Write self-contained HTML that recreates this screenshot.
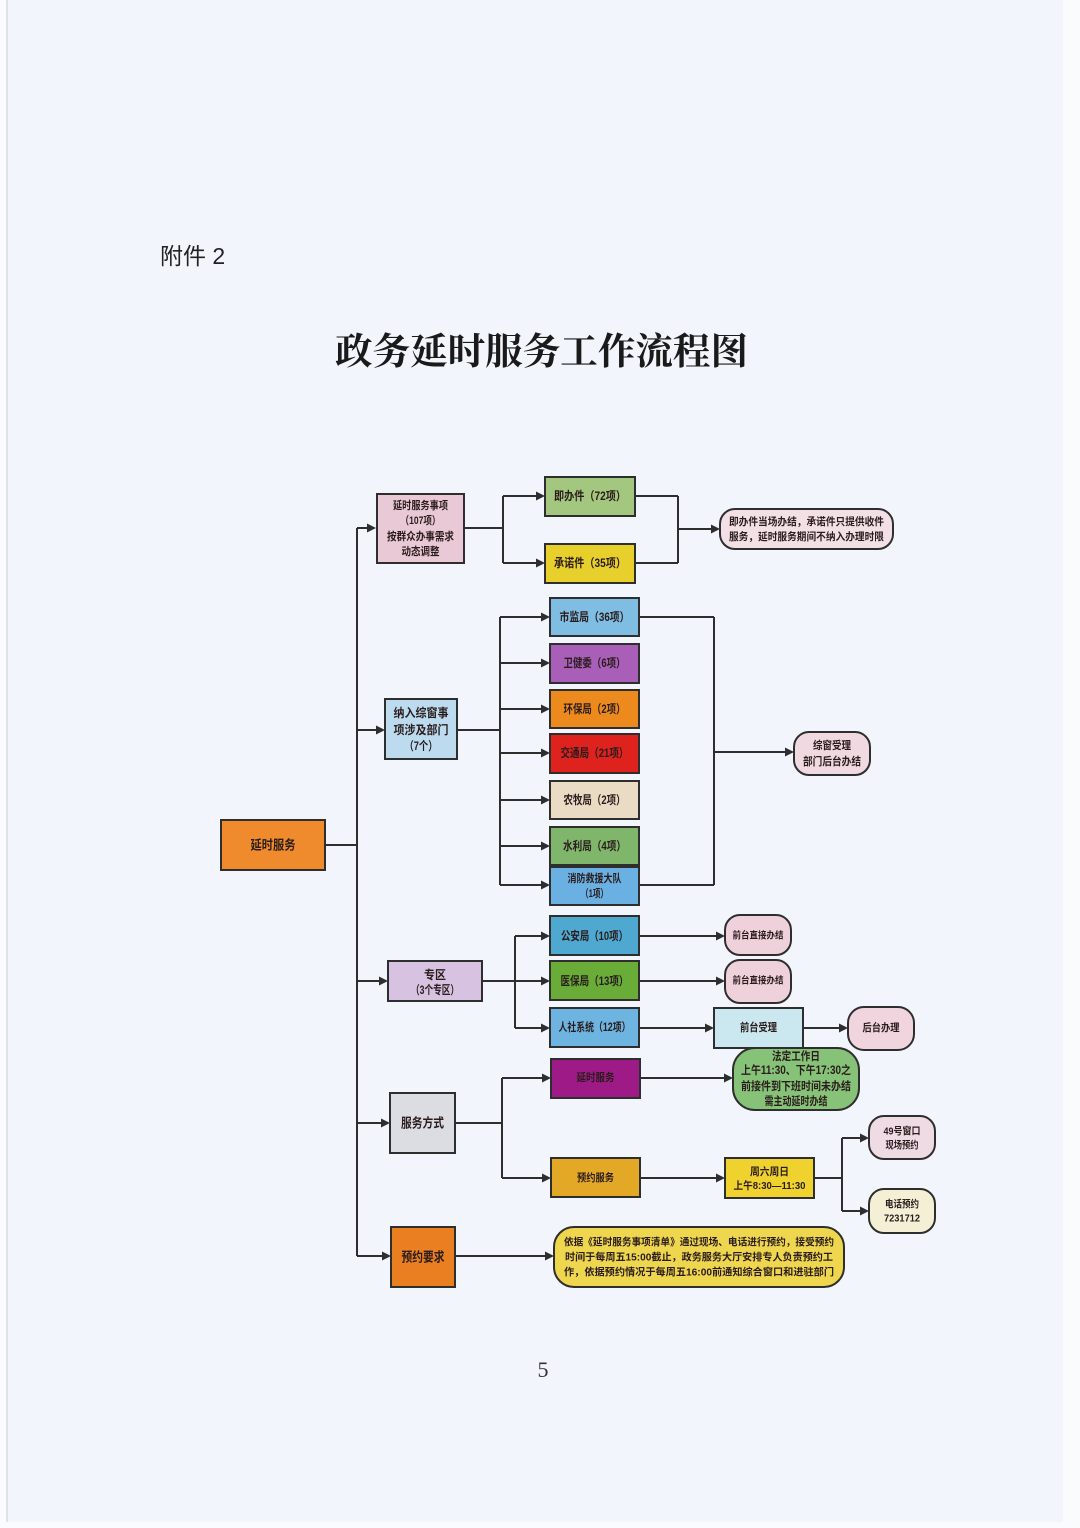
<!DOCTYPE html>
<html lang="zh">
<head>
<meta charset="utf-8">
<style>
  html,body{margin:0;padding:0;background:#fafbfd;}
  body{width:1080px;height:1528px;overflow:hidden;position:relative;}
  svg{display:block;}
  .t{font-family:"Liberation Sans","Noto Sans CJK SC",sans-serif;font-weight:bold;fill:#2a1c1c;text-anchor:middle;dominant-baseline:central;}
  .ln{stroke:#2e2e2e;stroke-width:2;fill:none;}
  .bx{stroke:#2e2e2e;stroke-width:2;}
  .ah{fill:#2e2e2e;}
</style>
</head>
<body>
<svg width="1080" height="1528" viewBox="0 0 1080 1528" xmlns="http://www.w3.org/2000/svg">
  <rect x="0" y="0" width="1080" height="1528" fill="#fafbfd"/>
  <rect x="7" y="0" width="1056" height="1522" fill="#f2f5fb"/>
  <line x1="7" y1="0" x2="7" y2="1522" stroke="#c9ccd2" stroke-width="1"/>

  <text x="160" y="264" font-family="'Liberation Sans','Noto Sans CJK SC',sans-serif" font-size="23" fill="#222">附件 2</text>
  <text x="335" y="364" font-family="'Liberation Serif','Noto Serif CJK SC',serif" font-weight="bold" font-size="37" fill="#1a1a1a" textLength="413" lengthAdjust="spacingAndGlyphs">政务延时服务工作流程图</text>

  <!-- connectors -->
  <path class="ln" d="M325 845 H357 M357 528 V1256"/>
  <path class="ln" d="M357 528 H368 M357 730 H377 M357 981 H380 M357 1123 H382 M357 1256 H383"/>
  <path class="ah" d="M376 528 l-9 -4.5 v9z M385 730 l-9 -4.5 v9z M388 981 l-9 -4.5 v9z M390 1123 l-9 -4.5 v9z M391 1256 l-9 -4.5 v9z"/>

  <path class="ln" d="M464 528 H503 M503 496 V563 M503 496 H537 M503 563 H537"/>
  <path class="ah" d="M545 496 l-9 -4.5 v9z M545 563 l-9 -4.5 v9z"/>
  <path class="ln" d="M635 496 H678 M635 563 H678 M678 496 V563 M678 529 H712"/>
  <path class="ah" d="M720 529 l-9 -4.5 v9z"/>

  <path class="ln" d="M457 730 H500 M500 617 V885"/>
  <path class="ln" d="M500 617 H542 M500 663 H542 M500 709 H542 M500 753 H542 M500 800 H542 M500 846 H542 M500 885 H542"/>
  <path class="ah" d="M550 617 l-9 -4.5 v9z M550 663 l-9 -4.5 v9z M550 709 l-9 -4.5 v9z M550 753 l-9 -4.5 v9z M550 800 l-9 -4.5 v9z M550 846 l-9 -4.5 v9z M550 885 l-9 -4.5 v9z"/>
  <path class="ln" d="M639 617 H714 M639 885 H714 M714 617 V885 M714 752 H786"/>
  <path class="ah" d="M794 752 l-9 -4.5 v9z"/>

  <path class="ln" d="M482 981 H542 M515 936 V1028 M515 936 H542 M515 1028 H542"/>
  <path class="ah" d="M550 936 l-9 -4.5 v9z M550 981 l-9 -4.5 v9z M550 1028 l-9 -4.5 v9z"/>
  <path class="ln" d="M639 936 H717 M639 981 H717 M639 1028 H706 M803 1028 H840"/>
  <path class="ah" d="M725 936 l-9 -4.5 v9z M725 981 l-9 -4.5 v9z M714 1028 l-9 -4.5 v9z M848 1028 l-9 -4.5 v9z"/>

  <path class="ln" d="M455 1123 H502 M502 1078 V1178 M502 1078 H543 M502 1178 H543"/>
  <path class="ah" d="M551 1078 l-9 -4.5 v9z M551 1178 l-9 -4.5 v9z"/>
  <path class="ln" d="M640 1078 H725 M640 1178 H717 M814 1178 H842 M842 1138 V1211 M842 1138 H861 M842 1211 H861"/>
  <path class="ah" d="M733 1078 l-9 -4.5 v9z M725 1178 l-9 -4.5 v9z M869 1138 l-9 -4.5 v9z M869 1211 l-9 -4.5 v9z"/>

  <path class="ln" d="M455 1256 H546"/>
  <path class="ah" d="M554 1256 l-9 -4.5 v9z"/>

  <!-- nodes -->
  <rect class="bx" x="221" y="820" width="104" height="50" fill="#ef8b2c"/>
  <text class="t" x="273" y="845" font-size="13" fill="#4a1c0a" textLength="45" lengthAdjust="spacingAndGlyphs">延时服务</text>

  <rect class="bx" x="377" y="494" width="87" height="69" fill="#e9c9d5"/>
  <text class="t" x="420.5" y="506" font-size="11" textLength="55" lengthAdjust="spacingAndGlyphs">延时服务事项</text>
  <text class="t" x="420.5" y="521" font-size="11" textLength="40" lengthAdjust="spacingAndGlyphs">（107项）</text>
  <text class="t" x="420.5" y="537" font-size="11" textLength="67" lengthAdjust="spacingAndGlyphs">按群众办事需求</text>
  <text class="t" x="420.5" y="552" font-size="11" textLength="38" lengthAdjust="spacingAndGlyphs">动态调整</text>

  <rect class="bx" x="545" y="477" width="90" height="39" fill="#a3c77e"/>
  <text class="t" x="590" y="496" font-size="12" textLength="72" lengthAdjust="spacingAndGlyphs">即办件（72项）</text>
  <rect class="bx" x="545" y="544" width="90" height="39" fill="#e7cf2c"/>
  <text class="t" x="590" y="563" font-size="12" textLength="72" lengthAdjust="spacingAndGlyphs">承诺件（35项）</text>

  <rect class="bx" x="720" y="509" width="173" height="40" rx="15" fill="#f3e0e7"/>
  <text class="t" x="806.5" y="522" font-size="10.5" textLength="155" lengthAdjust="spacingAndGlyphs">即办件当场办结，承诺件只提供收件</text>
  <text class="t" x="806.5" y="537" font-size="10.5" textLength="155" lengthAdjust="spacingAndGlyphs">服务，延时服务期间不纳入办理时限</text>

  <rect class="bx" x="385" y="699" width="72" height="60" fill="#bcdbee"/>
  <text class="t" x="421" y="713" font-size="12" textLength="55" lengthAdjust="spacingAndGlyphs">纳入综窗事</text>
  <text class="t" x="421" y="730" font-size="12" textLength="55" lengthAdjust="spacingAndGlyphs">项涉及部门</text>
  <text class="t" x="421" y="746" font-size="12" textLength="33" lengthAdjust="spacingAndGlyphs">（7个）</text>

  <rect class="bx" x="550" y="598" width="89" height="38" fill="#80bde3"/>
  <text class="t" x="594.5" y="617" font-size="12" textLength="70" lengthAdjust="spacingAndGlyphs">市监局（36项）</text>
  <rect class="bx" x="550" y="644" width="89" height="39" fill="#a95fb8"/>
  <text class="t" x="594.5" y="663" font-size="12" fill="#3a1242" textLength="62" lengthAdjust="spacingAndGlyphs">卫健委（6项）</text>
  <rect class="bx" x="550" y="690" width="89" height="38" fill="#ec8a1e"/>
  <text class="t" x="594.5" y="709" font-size="12" fill="#3a1a08" textLength="62" lengthAdjust="spacingAndGlyphs">环保局（2项）</text>
  <rect class="bx" x="550" y="734" width="89" height="39" fill="#de231e"/>
  <text class="t" x="594.5" y="753" font-size="12" fill="#7a1010" textLength="68" lengthAdjust="spacingAndGlyphs">交通局（21项）</text>
  <rect class="bx" x="550" y="781" width="89" height="38" fill="#eadbc4"/>
  <text class="t" x="594.5" y="800" font-size="12" textLength="62" lengthAdjust="spacingAndGlyphs">农牧局（2项）</text>
  <rect class="bx" x="550" y="827" width="89" height="38" fill="#80b66b"/>
  <text class="t" x="594.5" y="846" font-size="12" textLength="63" lengthAdjust="spacingAndGlyphs">水利局（4项）</text>
  <rect class="bx" x="550" y="867" width="89" height="38" fill="#6ab0e2"/>
  <text class="t" x="594.5" y="879" font-size="11" textLength="54" lengthAdjust="spacingAndGlyphs">消防救援大队</text>
  <text class="t" x="594.5" y="894" font-size="11" textLength="27" lengthAdjust="spacingAndGlyphs">（1项）</text>

  <rect class="bx" x="794" y="732" width="76" height="43" rx="15" fill="#f0d9e1"/>
  <text class="t" x="832" y="746" font-size="11" textLength="38" lengthAdjust="spacingAndGlyphs">综窗受理</text>
  <text class="t" x="832" y="762" font-size="11" textLength="58" lengthAdjust="spacingAndGlyphs">部门后台办结</text>

  <rect class="bx" x="388" y="961" width="94" height="40" fill="#d7c2e2"/>
  <text class="t" x="435" y="975" font-size="12" textLength="22" lengthAdjust="spacingAndGlyphs">专区</text>
  <text class="t" x="435" y="990" font-size="12" textLength="48" lengthAdjust="spacingAndGlyphs">（3个专区）</text>

  <rect class="bx" x="550" y="916" width="89" height="39" fill="#4fa8cf"/>
  <text class="t" x="594.5" y="936" font-size="12" textLength="67" lengthAdjust="spacingAndGlyphs">公安局（10项）</text>
  <rect class="bx" x="550" y="961" width="89" height="39" fill="#6aac38"/>
  <text class="t" x="594.5" y="981" font-size="12" textLength="68" lengthAdjust="spacingAndGlyphs">医保局（13项）</text>
  <rect class="bx" x="550" y="1008" width="89" height="39" fill="#6eb4e1"/>
  <text class="t" x="594.5" y="1028" font-size="11.5" textLength="72" lengthAdjust="spacingAndGlyphs">人社系统（12项）</text>

  <rect class="bx" x="725" y="915" width="66" height="40" rx="15" fill="#efd1db"/>
  <text class="t" x="758" y="936" font-size="9.5" textLength="51" lengthAdjust="spacingAndGlyphs">前台直接办结</text>
  <rect class="bx" x="725" y="960" width="66" height="43" rx="15" fill="#efd1db"/>
  <text class="t" x="758" y="981" font-size="9.5" textLength="51" lengthAdjust="spacingAndGlyphs">前台直接办结</text>

  <rect class="bx" x="714" y="1008" width="89" height="40" fill="#cbe7ef"/>
  <text class="t" x="758.5" y="1028" font-size="11" textLength="37" lengthAdjust="spacingAndGlyphs">前台受理</text>
  <rect class="bx" x="848" y="1007" width="66" height="43" rx="16" fill="#f0d5de"/>
  <text class="t" x="881" y="1028" font-size="10.5" textLength="37" lengthAdjust="spacingAndGlyphs">后台办理</text>

  <rect class="bx" x="390" y="1093" width="65" height="60" fill="#dcdce3"/>
  <text class="t" x="422.5" y="1123" font-size="13" textLength="43" lengthAdjust="spacingAndGlyphs">服务方式</text>

  <rect class="bx" x="551" y="1059" width="89" height="39" fill="#9e1a86"/>
  <text class="t" x="595.5" y="1078" font-size="11" fill="#5a0e4a" textLength="38" lengthAdjust="spacingAndGlyphs">延时服务</text>

  <rect class="bx" x="733" y="1048" width="126" height="62" rx="22" fill="#86c277"/>
  <text class="t" x="796" y="1057" font-size="11.5" textLength="48" lengthAdjust="spacingAndGlyphs">法定工作日</text>
  <text class="t" x="796" y="1071" font-size="11.5" textLength="110" lengthAdjust="spacingAndGlyphs">上午11:30、下午17:30之</text>
  <text class="t" x="796" y="1087" font-size="11.5" textLength="110" lengthAdjust="spacingAndGlyphs">前接件到下班时间未办结</text>
  <text class="t" x="796" y="1102" font-size="11.5" textLength="63" lengthAdjust="spacingAndGlyphs">需主动延时办结</text>

  <rect class="bx" x="551" y="1158" width="89" height="39" fill="#e3a826"/>
  <text class="t" x="595.5" y="1178" font-size="10.5" fill="#4a2608" textLength="37" lengthAdjust="spacingAndGlyphs">预约服务</text>

  <rect class="bx" x="725" y="1158" width="89" height="40" fill="#f0d22e"/>
  <text class="t" x="769.5" y="1172" font-size="10.5" textLength="39" lengthAdjust="spacingAndGlyphs">周六周日</text>
  <text class="t" x="769.5" y="1186" font-size="10.5" textLength="72" lengthAdjust="spacingAndGlyphs">上午8:30—11:30</text>

  <rect class="bx" x="869" y="1116" width="66" height="43" rx="15" fill="#efdbe4"/>
  <text class="t" x="902" y="1132" font-size="10" textLength="37" lengthAdjust="spacingAndGlyphs">49号窗口</text>
  <text class="t" x="902" y="1146" font-size="10" textLength="33" lengthAdjust="spacingAndGlyphs">现场预约</text>

  <rect class="bx" x="869" y="1189" width="66" height="44" rx="15" fill="#f3f0d6"/>
  <text class="t" x="902" y="1205" font-size="10" textLength="34" lengthAdjust="spacingAndGlyphs">电话预约</text>
  <text class="t" x="902" y="1219" font-size="10" textLength="36" lengthAdjust="spacingAndGlyphs">7231712</text>

  <rect class="bx" x="391" y="1227" width="64" height="60" fill="#e97f20"/>
  <text class="t" x="423" y="1257" font-size="13" fill="#6a1a10" textLength="43" lengthAdjust="spacingAndGlyphs">预约要求</text>

  <rect class="bx" x="554" y="1227" width="290" height="60" rx="20" fill="#eed64e"/>
  <text class="t" x="699" y="1243" font-size="10.2" textLength="270" lengthAdjust="spacingAndGlyphs">依据《延时服务事项清单》通过现场、电话进行预约，接受预约</text>
  <text class="t" x="699" y="1258" font-size="10.2" textLength="268" lengthAdjust="spacingAndGlyphs">时间于每周五15:00截止，政务服务大厅安排专人负责预约工</text>
  <text class="t" x="699" y="1273" font-size="10.2" textLength="270" lengthAdjust="spacingAndGlyphs">作，依据预约情况于每周五16:00前通知综合窗口和进驻部门</text>

  <text x="543" y="1377" text-anchor="middle" font-family="'Liberation Serif',serif" font-size="22" fill="#333">5</text>
</svg>
</body>
</html>
